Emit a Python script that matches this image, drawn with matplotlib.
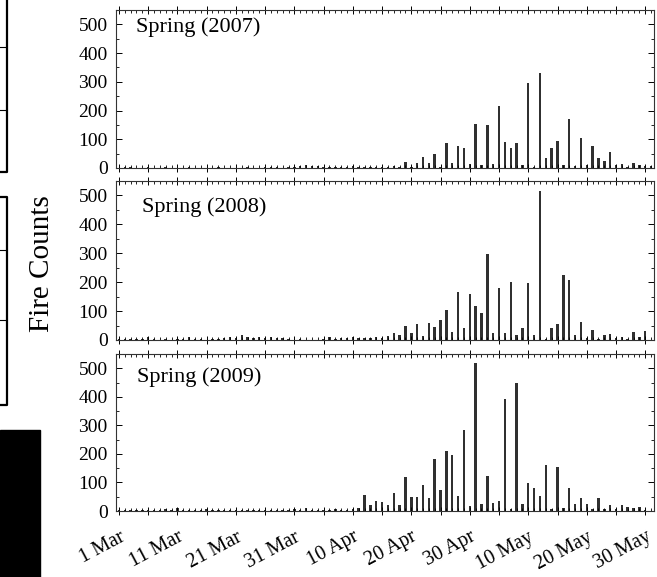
import numpy as np
import matplotlib
matplotlib.use("Agg")
import matplotlib.pyplot as plt
from matplotlib.ticker import FixedLocator, MultipleLocator
from matplotlib.lines import Line2D
from matplotlib.patches import Rectangle

plt.rcParams["font.family"] = ["Liberation Serif", "DejaVu Serif"]

# daily fire counts, 1 Mar .. 31 May (92 days)
counts_2007 = [0, 3, 2, 0, 0, 2, 0, 0, 2, 0,
               0, 0, 2, 0, 0, 0, 0, 2, 0, 0,
               0, 0, 2, 0, 0, 4, 3, 4, 0, 2,
               5, 6, 12, 8, 6, 4, 3, 5, 2, 4,
               6, 3, 5, 4, 3, 5, 4, 6, 3, 20,
               3, 16, 37, 16, 48, 3, 86, 19, 77, 71,
               14, 153, 10, 150, 13, 217, 89, 71, 86, 10,
               296, 2, 331, 36, 71, 95, 10, 170, 7, 106,
               9, 75, 34, 25, 55, 9, 13, 3, 19, 10,
               8, 8]
counts_2008 = [3, 4, 3, 4, 5, 10, 2, 0, 3, 0,
               2, 4, 12, 3, 2, 0, 5, 4, 8, 10,
               6, 18, 10, 6, 10, 8, 10, 8, 6, 3,
               0, 2, 0, 0, 0, 2, 10, 3, 8, 6,
               10, 8, 6, 8, 12, 6, 14, 23, 17, 47,
               23, 55, 15, 58, 44, 70, 105, 29, 166, 43,
               158, 119, 93, 298, 23, 181, 23, 201, 17, 41,
               198, 17, 517, 3, 43, 55, 224, 207, 17, 61,
               6, 35, 2, 17, 20, 8, 9, 3, 29, 12,
               32, 0]
counts_2009 = [3, 2, 3, 2, 3, 4, 3, 2, 6, 4,
               10, 3, 5, 4, 3, 6, 3, 2, 4, 3,
               2, 3, 2, 4, 3, 5, 4, 3, 2, 3,
               8, 2, 10, 3, 5, 2, 3, 6, 4, 5,
               6, 12, 56, 20, 36, 33, 21, 62, 21, 120,
               48, 48, 91, 44, 181, 73, 210, 196, 54, 284,
               19, 520, 23, 123, 27, 35, 394, 7, 450, 23,
               97, 79, 53, 161, 7, 155, 9, 79, 25, 44,
               23, 6, 47, 6, 21, 7, 21, 15, 9, 15,
               3, 0]
years = ["2007", "2008", "2009"]
series = [counts_2007, counts_2008, counts_2009]
tick_labels = ["1 Mar", "11 Mar", "21 Mar", "31 Mar", "10 Apr",
               "20 Apr", "30 Apr", "10 May", "20 May", "30 May"]

W, H = 657, 577
fig = plt.figure(figsize=(W / 100, H / 100), dpi=100)

# panel boxes in pixels: (top, bottom)
boxes = [(10, 168), (181, 340), (354, 511)]
title_y = [0.89, 0.836, 0.853]
title_x = [0.037, 0.048, 0.039]
left, right = 116, 654

for i, (yr, vals, (t, b)) in enumerate(zip(years, series, boxes)):
    ax = fig.add_axes([left / W, 1 - b / H, (right - left) / W, (b - t) / H])
    days = np.arange(len(vals))
    ax.bar(days, vals, width=0.42, color="#303030", linewidth=0)
    ax.set_xlim(-0.5, 91.5)
    ax.set_ylim(0, 550)
    ax.yaxis.set_major_locator(FixedLocator([0, 100, 200, 300, 400, 500]))
    ax.yaxis.set_minor_locator(MultipleLocator(50))
    ax.xaxis.set_major_locator(FixedLocator(np.arange(0, 91, 5)))
    ax.xaxis.set_minor_locator(MultipleLocator(1))
    ax.tick_params(axis="y", which="both", direction="in", right=True, labelsize=14, pad=6)
    ax.tick_params(axis="y", which="major", length=4, width=0.7)
    ax.tick_params(axis="y", which="minor", length=2, width=0.6)
    ax.tick_params(axis="x", which="major", direction="inout", top=True, length=6, width=0.7)
    ax.tick_params(axis="x", which="minor", direction="in", top=True, length=2.5, width=0.6)
    for s in ax.spines.values():
        s.set_linewidth(0.8)
        s.set_color("#333")
    if i == 2:
        labs = []
        for k in range(19):
            labs.append(tick_labels[k // 2] if k % 2 == 0 else "")
        ax.set_xticklabels(labs, rotation=28, ha="right", va="top",
                           rotation_mode="anchor", fontsize=14.5)
        ax.tick_params(axis="x", which="major", pad=9)
    else:
        ax.set_xticklabels([])
    ax.text(title_x[i], title_y[i], f"Spring ({yr})", transform=ax.transAxes,
            fontsize=16, va="center", ha="left")

fig.text(42 / W, 1 - 264 / H, "Fire Counts", rotation=90, fontsize=21,
         ha="center", va="center")

# remnants of neighbouring panels at the left edge
def px_line(xs, ys, lw=1.6):
    fig.add_artist(Line2D([x / W for x in xs], [1 - y / H for y in ys],
                          color="k", lw=lw, transform=fig.transFigure))

px_line([0, 7, 7], [172, 172, 0])
px_line([0, 7, 7, 0], [197, 197, 405, 405])
for y in (47, 110):
    px_line([0, 5], [y, y], lw=0.8)
for y in (250, 320):
    px_line([0, 5], [y, y], lw=0.8)
fig.add_artist(Rectangle((0, 0), 40 / W, (577 - 430) / H, color="k",
                         transform=fig.transFigure))

fig.savefig("out.png", dpi=100)
